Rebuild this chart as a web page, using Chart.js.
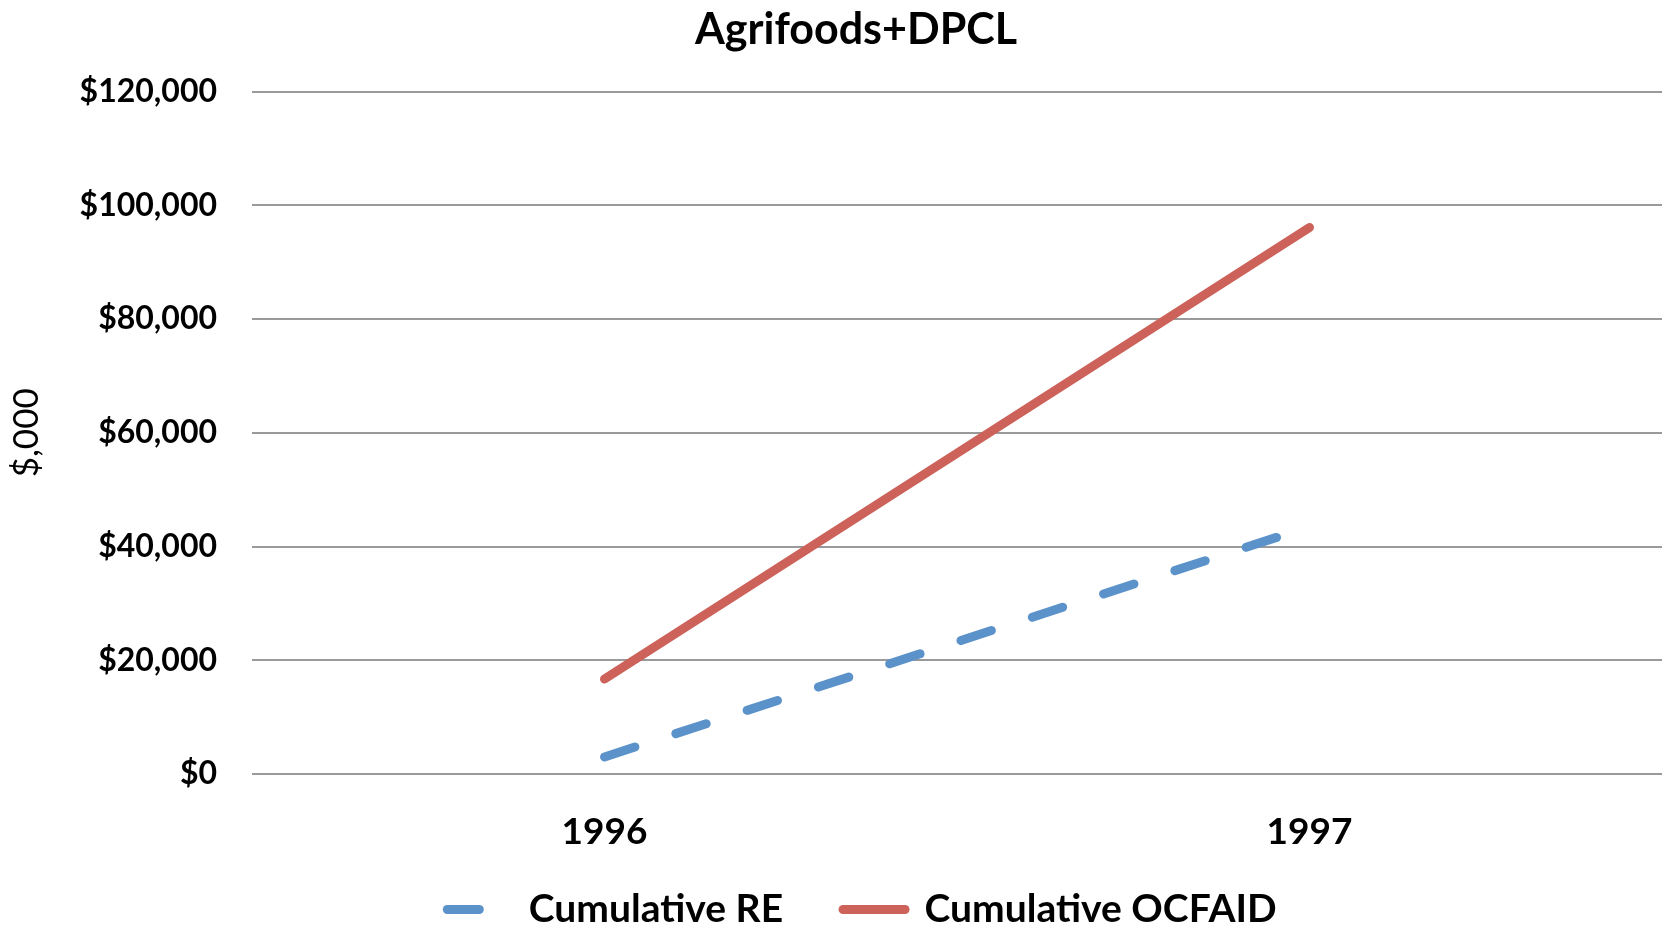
<!DOCTYPE html>
<html>
<head>
<meta charset="utf-8">
<title>Agrifoods+DPCL</title>
<script src="https://cdn.jsdelivr.net/npm/chart.js@4"></script>
<style>
    html, body { margin: 0; padding: 0; background: #fff; }
    #wrap { width: 1662px; height: 929px; }
</style>
</head>
<body>
<div id="wrap"><canvas id="chart"></canvas></div>
<script>
// values
const years = ['1996', '1997'];
const cumulativeRE = [3000, 43500];
const cumulativeOCFAID = [16700, 96100];
const yTicks = { min: 0, max: 120000, step: 20000 };

// legend is drawn a bit higher (and a touch right) of its layout box so the year labels keep their room
const legendShift = {
    id: 'legendShift',
    afterLayout(chart) {
        chart.legend.top -= 20;
        chart.legend.bottom -= 20;
        chart.legend.left += 6;
        chart.legend.right += 6;
    }
};

document.addEventListener('DOMContentLoaded', function () {
    const ctx = document.getElementById('chart').getContext('2d');

    new Chart(ctx, {
        type: 'line',
        data: {
            labels: years,
            datasets: [
                {
                    label: 'Cumulative RE',
                    data: cumulativeRE,
                    borderColor: '#5b92c9',
                    backgroundColor: '#5b92c9',
                    borderWidth: 9,
                    borderDash: [32, 43],
                    borderCapStyle: 'round',
                    pointRadius: 0,
                    fill: false
                },
                {
                    label: 'Cumulative OCFAID',
                    data: cumulativeOCFAID,
                    borderColor: '#cc625a',
                    backgroundColor: '#cc625a',
                    borderWidth: 9,
                    borderCapStyle: 'round',
                    pointRadius: 0,
                    fill: false
                }
            ]
        },
        options: {
            responsive: true,
            maintainAspectRatio: false,
            animation: false,
            layout: {
                padding: { left: 50, right: 0, top: 0, bottom: -30 }
            },
            plugins: {
                title: {
                    display: true,
                    text: 'Agrifoods+DPCL',
                    color: '#000',
                    font: { family: 'Lato', size: 43, weight: 'bold' },
                    padding: { top: 4, bottom: 36 }
                },
                legend: {
                    position: 'bottom',
                    labels: {
                        color: '#000',
                        font: { family: 'Lato', size: 39, weight: 'bold' },
                        usePointStyle: true,
                        pointStyle: 'line',
                        pointStyleWidth: 62,
                        padding: 60,
                        // line charts give the point style to the legend, so take dash and caps from the line
                        generateLabels: chart => Chart.defaults.plugins.legend.labels.generateLabels(chart).map(item => {
                            const ds = chart.data.datasets[item.datasetIndex];
                            item.lineDash = ds.borderDash || [];
                            item.lineCap = ds.borderCapStyle;
                            item.lineWidth = ds.borderWidth;
                            return item;
                        })
                    }
                },
                tooltip: { enabled: false }
            },
            scales: {
                x: {
                    offset: true,
                    grid: { display: false },
                    border: { display: false },
                    ticks: {
                        color: '#000',
                        padding: 28,
                        font: { family: 'Lato', size: 37, weight: 'bold' }
                    },
                    afterFit: scale => { scale.height = 76; }
                },
                y: {
                    min: yTicks.min,
                    max: yTicks.max,
                    grid: { color: '#9a9a9a', lineWidth: 2, drawTicks: false },
                    border: { display: false },
                    ticks: {
                        stepSize: yTicks.step,
                        color: '#000',
                        padding: 35,
                        font: { family: 'Lato', size: 32, weight: 'bold' },
                        callback: value => '$' + value.toLocaleString('en-US')
                    },
                    title: {
                        display: true,
                        text: '$,000',
                        color: '#000',
                        font: { family: 'Lato', size: 35 },
                        padding: { top: -44, bottom: 0 }
                    },
                    afterFit: scale => { scale.width = 202; }
                }
            }
        },
        plugins: [legendShift]
    });
});
</script>
</body>
</html>
